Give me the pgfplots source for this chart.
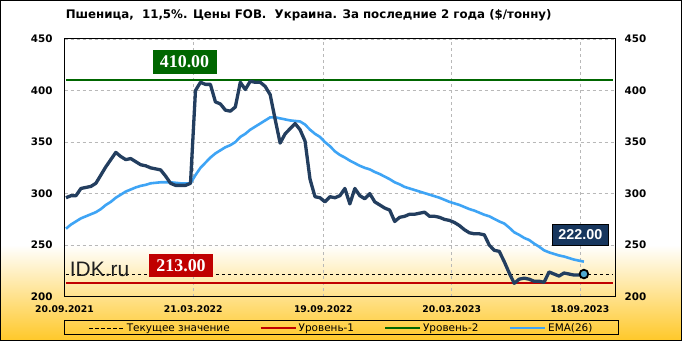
\documentclass[border=0pt]{standalone}
\usepackage{fontspec}
\setmainfont{DejaVu Sans}
\newfontfamily\lib{Liberation Sans}
\newfontfamily\libserif{Liberation Serif}
\usepackage{pgfplots}
\pgfplotsset{compat=1.18}
\usepackage{pgfplotstable}
\definecolor{darkline}{RGB}{35,62,95}
\definecolor{emablue}{RGB}{62,164,245}
\definecolor{lvred}{RGB}{192,0,0}
\definecolor{lvgreen}{RGB}{0,102,0}
\definecolor{navybox}{RGB}{23,54,93}
\definecolor{gold}{RGB}{255,200,40}
\definecolor{markblue}{RGB}{80,170,210}

\pgfplotstableread{
w v
0 296
1 298
2 298
3 305
4 306
5 307
6 310
7 318
8 326
9 333
10 340
11 336
12 333
13 334
14 331
15 328
16 327
17 325
18 324
19 323
20 317
21 310
22 308
23 308
24 308
25 310
26 400
27 408
28 406
29 406
30 389
31 387
32 381
33 380
34 384
35 408
36 401
37 409
38 408
39 408
40 404
41 396
42 372
43 349
44 358
45 363
46 368
47 362
48 351
49 314
50 297
51 296
52 292
53 297
54 296
55 298
56 305
57 290
58 305
59 298
60 295
61 300
62 292
63 289
64 286
65 284
66 273
67 277
68 278
69 280
70 280
71 281
72 282
73 278
74 278
75 277
76 275
77 274
78 272
79 269
80 265
81 262
82 261
83 261
84 260
85 250
86 245
87 244
88 234
89 223
90 213
91 217
92 218
93 217
94 215
95 215
96 214
97 224
98 222
99 220
100 223
101 222
102 221
103 221
104 222
}\price

\pgfplotstableread{
w v
0 266
1 270
2 273
3 276
4 278
5 280
6 282
7 285
8 289
9 292
10 296
11 299
12 302
13 304
14 306
15 307.5
16 308.5
17 310
18 310.5
19 311
20 311
21 311
22 310.5
23 310
24 310
25 310
26 318
27 325
28 330
29 335
30 339
31 342
32 345
33 347
34 350
35 355
36 358
37 362
38 365
39 368
40 371
41 374
42 374
43 373
44 372
45 371
46 370.5
47 370
48 367
49 362
50 358
51 355
52 350
53 346
54 341
55 337.5
56 335
57 332
58 329.5
59 327
60 325
61 323.5
62 321
63 319
64 316.5
65 314
66 311
67 309
68 306.5
69 305
70 303.5
71 302
72 300.5
73 299
74 297.5
75 296
76 294
77 292
78 290.5
79 289
80 287
81 285
82 283.5
83 281.5
84 279.5
85 278
86 275.5
87 273
88 271
89 267
90 262.5
91 260
92 257
93 255
94 251.5
95 248.5
96 245
97 243
98 241.5
99 240
100 239
101 237.5
102 236
103 235
104 234
}\ema

\begin{document}
\begin{tikzpicture}
% background
\fill[white] (0,0) rectangle (682bp,341bp);
\shade[top color=white, bottom color=gold] (0,0) rectangle (682bp,96bp);
\draw[black, line width=1bp] (0.5bp,0.5bp) rectangle (681.5bp,340.5bp);
% title
\node[anchor=west, inner sep=0pt] at (65.6bp,326bp)
  {\bfseries\fontsize{11.85}{14}\selectfont Пшеница,\ \ 11,5\%. Цены FOB.\ \ Украина. За последние 2 года (\$/тонну)};
% legend box
\draw[black, line width=1bp] (64.7bp,6bp) rectangle (618.7bp,20.3bp);

\begin{axis}[
  at={(64.5bp,44.3bp)}, anchor=south west,
  scale only axis, width=550.5bp, height=257.7bp,
  xmin=-0.3, xmax=110.24, ymin=200, ymax=450,
  clip=false,
  axis line style={black, line width=1bp},
  xtick={-0.3,25.56,51.67,77.45,103.21},
  xticklabels={20.09.2021,21.03.2022,19.09.2022,20.03.2023,18.09.2023},
  ytick={200,250,300,350,400,450},
  major tick length=0pt,
  grid=major,
  major grid style={black!28, dash pattern=on 3bp off 3bp, line width=0.8bp},
  /pgf/number format/assume math mode=true,
  yticklabel style={font=\bfseries\fontsize{10.4}{12}\selectfont, inner sep=0pt, xshift=-11.8bp},
  xticklabel style={font=\bfseries\fontsize{9.3}{11}\selectfont, inner sep=0pt, yshift=-8.5bp},
  legend columns=4,
  legend style={draw=none, fill=none, at={(0.5035,-0.1215)}, anchor=center,
    font=\fontsize{10.5}{12}\selectfont, inner sep=0pt,
    /tikz/every even column/.append style={column sep=28bp}},
  legend image code/.code={\draw[#1] (0bp,0bp) -- (35bp,0bp);},
]
\addplot[black, dash pattern=on 3.5bp off 2.5bp, line width=0.9bp] coordinates {(0,222) (109.9,222)};
\addlegendentry{Текущее значение}
\addplot[lvred, line width=2bp] coordinates {(0,213) (109.9,213)};
\addlegendentry{Уровень-1}
\addplot[lvgreen, line width=2bp] coordinates {(0,410) (109.9,410)};
\addlegendentry{Уровень-2}
\addplot[emablue, line width=2.6bp, line join=round] table[x=w,y=v] {\ema};
\addlegendentry{EMA(26)}
\addplot[darkline, line width=3.3bp, line join=round, forget plot] table[x=w,y=v] {\price};
\addplot[only marks, mark=*, mark size=4.3bp, mark options={fill=markblue, draw=black, line width=1.8bp}, forget plot] coordinates {(104,222)};

\node[fill=lvgreen, text=white, font=\libserif\bfseries\fontsize{18}{20}\selectfont, minimum width=64bp, minimum height=23.5bp, inner sep=0pt] at (axis cs:23.8,427.9) {410.00};
\node[fill=lvred, text=white, font=\libserif\bfseries\fontsize{18}{20}\selectfont, minimum width=64bp, minimum height=23bp, inner sep=0pt] at (axis cs:23.1,230.3) {213.00};
\node[fill=navybox, draw=black, line width=0.8bp, text=white, font=\lib\bfseries\fontsize{14.4}{16}\selectfont, minimum width=56bp, minimum height=21bp, inner sep=0pt] at (axis cs:103.27,260.2) {222.00};
\node[anchor=base west, inner sep=0pt, text=black!88, font=\lib\fontsize{21}{24}\selectfont] at (axis cs:0.74,219.4) {IDK.ru};
\end{axis}

\begin{axis}[
  at={(64.5bp,44.3bp)}, anchor=south west,
  scale only axis, width=550.5bp, height=257.7bp,
  xmin=-0.3, xmax=110.24, ymin=200, ymax=450,
  axis x line=none, axis y line*=right,
  axis line style={black, line width=1bp},
  ytick={200,250,300,350,400,450},
  major tick length=0pt,
  /pgf/number format/assume math mode=true,
  yticklabel style={font=\bfseries\fontsize{10.4}{12}\selectfont, inner sep=0pt, xshift=9.5bp},
]
\end{axis}
\pgfresetboundingbox
\useasboundingbox (0,0) rectangle (682bp,341bp);
\end{tikzpicture}
\end{document}
